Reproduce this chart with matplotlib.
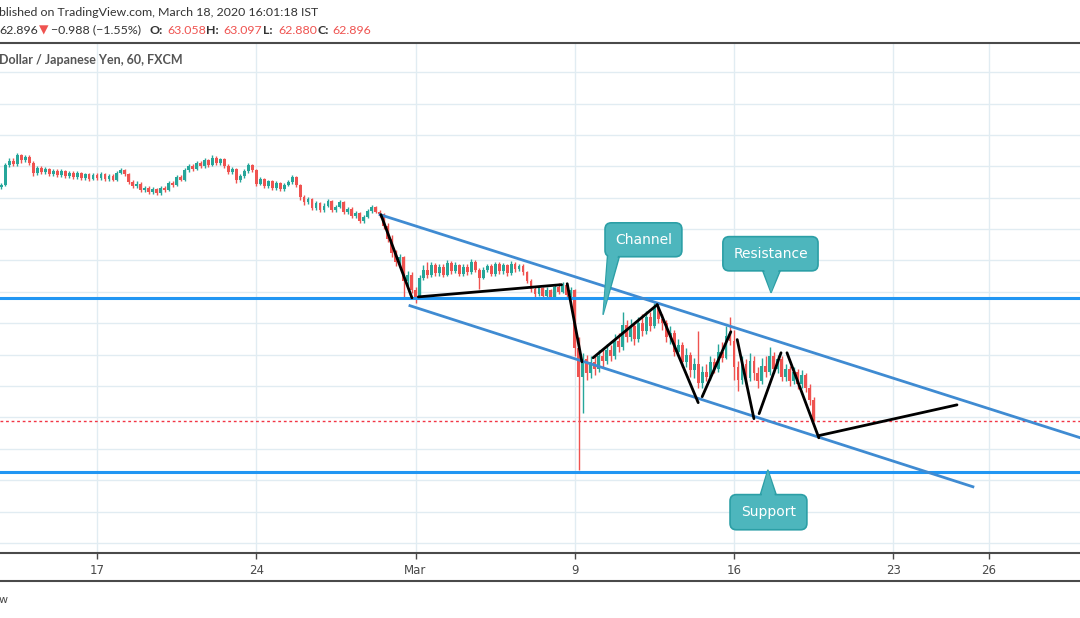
import numpy as np
import matplotlib
matplotlib.use("Agg")
import matplotlib.pyplot as plt
from matplotlib.patches import FancyBboxPatch, Polygon
from matplotlib.lines import Line2D

# NZD/JPY, 3-hour bars (bar 0 = Fri 14 Feb)
first_open = 70.35
closes = [
    70.40, 71.05, 71.18, 71.08, 71.35, 71.20, 71.30, 71.12, 70.78, 70.95,
    70.82, 70.92, 70.74, 70.86, 70.72, 70.84, 70.68, 70.80, 70.66, 70.78,
    70.62, 70.74, 70.60, 70.72, 70.64, 70.76, 70.60, 70.70, 70.58, 70.80,
    70.88, 70.74, 70.50, 70.38, 70.45, 70.25, 70.32, 70.18, 70.28, 70.15,
    70.30, 70.24, 70.48, 70.40, 70.66, 70.58, 70.88, 71.02, 70.92, 71.12,
    71.00, 71.20, 71.05, 71.28, 71.10, 71.22, 71.02, 70.82, 70.92, 70.55,
    70.68, 70.85, 71.05, 70.88, 70.45, 70.60, 70.38, 70.52, 70.32, 70.46,
    70.28, 70.42, 70.50, 70.65, 70.40, 70.02, 69.85, 69.95, 69.68, 69.82,
    69.60, 69.75, 69.90, 69.60, 69.72, 69.85, 69.55, 69.65, 69.42, 69.52,
    69.25, 69.40, 69.58, 69.70, 69.55, 69.48, 69.10, 68.70, 68.25, 67.95,
    68.10, 67.35, 67.55, 67.05, 66.85, 67.45, 67.70, 67.55, 67.85, 67.60,
    67.80, 67.55, 67.92, 67.68, 67.85, 67.58, 67.80, 67.62, 67.95, 67.70,
    67.45, 67.70, 67.82, 67.58, 67.88, 67.65, 67.85, 67.60, 67.90, 67.72,
    67.82, 67.62, 67.35, 67.10, 66.92, 67.12, 66.88, 67.05, 66.82, 67.15,
    67.00, 67.22, 66.90, 67.05, 65.20, 64.30, 64.85, 64.40, 64.75, 64.55,
    64.95, 64.80, 65.15, 64.95, 65.45, 65.25, 65.95, 65.55, 65.90, 65.50,
    66.00, 65.75, 66.20, 65.90, 66.50, 66.15, 66.00, 65.55, 65.70, 65.10,
    65.30, 64.75, 65.00, 64.50, 64.70, 64.10, 64.45, 64.30, 64.75, 64.55,
    65.10, 64.90, 65.60, 65.45, 64.60, 64.20, 64.70, 64.25, 64.80, 64.40,
    64.15, 64.65, 64.45, 64.95, 64.55, 64.85, 64.30, 64.55, 64.15, 64.45,
    64.05, 64.35, 63.95, 63.55, 62.90,
]
highs = [
    70.48, 71.12, 71.26, 71.25, 71.44, 71.40, 71.36, 71.36, 71.16, 71.02,
    71.00, 70.98, 70.96, 70.92, 70.90, 70.90, 70.88, 70.86, 70.84, 70.84,
    70.82, 70.80, 70.78, 70.78, 70.78, 70.82, 70.80, 70.76, 70.74, 70.86,
    70.95, 70.92, 70.78, 70.56, 70.52, 70.50, 70.38, 70.36, 70.34, 70.32,
    70.36, 70.36, 70.54, 70.54, 70.72, 70.72, 70.94, 71.08, 71.08, 71.18,
    71.18, 71.26, 71.24, 71.36, 71.32, 71.28, 71.26, 71.06, 70.98, 70.96,
    70.74, 70.92, 71.10, 71.08, 70.92, 70.66, 70.64, 70.58, 70.56, 70.52,
    70.50, 70.48, 70.56, 70.72, 70.68, 70.44, 70.08, 70.02, 69.98, 69.88,
    69.86, 69.82, 69.96, 69.94, 69.78, 69.94, 69.88, 69.72, 69.70, 69.58,
    69.56, 69.46, 69.64, 69.76, 69.74, 69.62, 69.52, 69.18, 68.80, 68.35,
    68.22, 68.15, 67.68, 67.62, 67.15, 67.55, 67.85, 67.96, 67.95, 67.92,
    67.90, 67.88, 68.02, 67.98, 67.94, 67.90, 67.90, 67.88, 68.05, 68.00,
    67.76, 67.78, 67.90, 67.88, 67.96, 67.94, 67.92, 67.90, 67.98, 67.96,
    67.90, 67.88, 67.68, 67.42, 67.18, 67.20, 67.16, 67.14, 67.10, 67.25,
    67.28, 67.32, 67.26, 67.15, 67.10, 65.55, 65.05, 65.00, 64.95, 64.95,
    65.15, 65.20, 65.35, 65.30, 65.65, 65.70, 66.35, 66.10, 66.15, 66.00,
    66.20, 66.30, 66.40, 66.35, 66.66, 66.60, 66.30, 66.10, 65.90, 65.80,
    65.50, 65.40, 65.20, 65.10, 64.90, 65.75, 64.65, 64.70, 64.95, 64.90,
    65.35, 65.40, 65.90, 66.20, 65.80, 64.80, 64.95, 64.85, 65.05, 64.95,
    64.60, 64.90, 64.95, 65.25, 65.10, 65.00, 64.95, 64.70, 64.65, 64.60,
    64.55, 64.50, 64.40, 64.05, 63.65,
]
lows = [
    70.28, 70.36, 70.98, 71.00, 71.02, 71.12, 71.14, 71.04, 70.70, 70.72,
    70.76, 70.76, 70.68, 70.68, 70.66, 70.66, 70.62, 70.62, 70.60, 70.60,
    70.56, 70.56, 70.54, 70.55, 70.58, 70.58, 70.54, 70.54, 70.52, 70.54,
    70.74, 70.68, 70.44, 70.30, 70.32, 70.18, 70.18, 70.12, 70.12, 70.08,
    70.10, 70.18, 70.20, 70.34, 70.36, 70.52, 70.54, 70.82, 70.86, 70.88,
    70.94, 70.96, 70.98, 71.00, 71.04, 71.04, 70.96, 70.76, 70.76, 70.48,
    70.50, 70.62, 70.80, 70.82, 70.36, 70.40, 70.32, 70.32, 70.26, 70.26,
    70.22, 70.22, 70.36, 70.44, 70.34, 69.94, 69.78, 69.80, 69.62, 69.62,
    69.54, 69.54, 69.70, 69.54, 69.54, 69.66, 69.48, 69.48, 69.36, 69.36,
    69.18, 69.20, 69.34, 69.52, 69.50, 69.40, 69.00, 68.58, 68.10, 67.82,
    67.80, 66.85, 67.20, 66.95, 66.66, 66.78, 67.38, 67.45, 67.48, 67.50,
    67.52, 67.46, 67.50, 67.58, 67.60, 67.50, 67.52, 67.54, 67.56, 67.62,
    67.10, 67.40, 67.62, 67.50, 67.52, 67.56, 67.58, 67.52, 67.55, 67.64,
    67.66, 67.55, 67.28, 67.00, 66.84, 66.86, 66.80, 66.82, 66.76, 66.78,
    66.92, 66.95, 66.80, 66.85, 64.95, 61.33, 63.15, 64.20, 64.25, 64.35,
    64.45, 64.60, 64.70, 64.80, 64.85, 65.10, 65.15, 65.40, 65.45, 65.30,
    65.40, 65.60, 65.65, 65.75, 65.85, 66.00, 65.80, 65.40, 65.35, 64.95,
    64.95, 64.60, 64.60, 64.30, 64.25, 63.95, 63.95, 64.15, 64.20, 64.40,
    64.45, 64.75, 64.85, 65.30, 64.20, 63.85, 64.05, 64.00, 64.15, 64.20,
    63.95, 64.05, 64.30, 64.35, 64.40, 64.40, 64.15, 64.15, 64.00, 64.05,
    63.90, 63.95, 63.80, 63.40, 62.88,
]

last_price = 62.896
resistance = 66.80
support = 61.26

# x positions of the date labels, in bars
date_bars = [24, 64, 104, 144, 184, 224, 248]
date_labels = ["17", "24", "Mar", "9", "16", "23", "26"]

# drawings: (bar, price) end points
channel_lines = [[(95.1, 69.46), (271.0, 62.35)],
                 [(102.6, 66.56), (244.0, 60.79)]]
zigzag_lines = [
    [(95.3, 69.46), (103.1, 66.81)],
    [(104.7, 66.84), (140.7, 67.23)],
    [(142.1, 67.26), (145.8, 64.77)],
    [(148.6, 64.90), (164.7, 66.59)],
    [(164.7, 66.59), (175.0, 63.47)],
    [(176.0, 63.66), (183.2, 65.73)],
    [(184.8, 65.48), (189.0, 62.96)],
    [(190.3, 63.12), (195.8, 65.06)],
    [(197.3, 65.06), (205.3, 62.35)],
    [(205.3, 62.42), (240.0, 63.40)],
]
# label, box (x0, x1, y0, y1), tail base (xa, xb), tail tip
callouts = [
    ("Channel", (151.6, 170.9, 68.12, 69.20), (152.2, 155.2), (151.1, 66.27)),
    ("Resistance", (181.2, 205.1, 67.67, 68.76), (191.2, 195.6), (193.3, 66.97)),
    ("Support", (183.0, 202.3, 59.42, 60.54), (190.6, 194.6), (192.5, 61.33)),
]

up_col = "#26a69a"
down_col = "#ef5350"
grid_col = "#e1ecf2"
frame_col = "#4a4a4a"

fig = plt.figure(figsize=(10.8, 6.18), dpi=100)
ax = fig.add_axes([0, 1 - 553.3 / 618, 1, (553.3 - 43) / 618])
ax.set_xlim(-0.37, 270.9)
ax.set_ylim(58.67, 74.93)

c = np.array(closes)
o = np.r_[first_open, c[:-1]]
x = np.arange(len(c))
cols = np.where(c >= o, up_col, down_col)
ax.vlines(x, lows, highs, colors=cols, lw=1, zorder=3)
body = np.maximum(np.abs(c - o), 0.03)
ax.bar(x, body, bottom=np.minimum(o, c), width=0.72, color=cols, zorder=3)

# grid
ax.set_xticks(date_bars)
ax.set_xticklabels(date_labels)
ax.set_yticks(np.arange(59, 75))
ax.tick_params(axis="y", length=0, labelleft=False)
ax.tick_params(axis="x", length=4, color=frame_col, width=1, pad=4,
               labelsize=8.5, labelcolor="#4a4a4a")
ax.grid(color=grid_col, lw=1, zorder=0)
ax.set_axisbelow(True)
for s in ["left", "right"]:
    ax.spines[s].set_visible(False)
for s in ["top", "bottom"]:
    ax.spines[s].set_color(frame_col)
    ax.spines[s].set_linewidth(1.5)

# levels
ax.axhline(resistance, color="#2196f3", lw=2.2, zorder=4)
ax.axhline(support, color="#2196f3", lw=2.2, zorder=4)
ax.axhline(last_price, color="#f23645", lw=1, ls=(0, (2, 2)), zorder=2)
for seg in channel_lines:
    xs, ys = zip(*seg)
    ax.plot(xs, ys, color="#3f8bd2", lw=2, zorder=5)
for seg in zigzag_lines:
    xs, ys = zip(*seg)
    ax.plot(xs, ys, color="black", lw=2, zorder=6, solid_capstyle="round")

# callouts
box_fc = "#4db6bd"
box_ec = "#2c9fa6"
asp = (1080 / 271.27) / (510.3 / 16.26)
for label, (x0, x1, y0, y1), (xa, xb), tip in callouts:
    edge_y = y0 if tip[1] < y0 else y1
    inner = 0.08 if tip[1] < y0 else -0.08
    tail = Polygon([(xa, edge_y), tip, (xb, edge_y)], closed=True,
                   fc=box_fc, ec=box_ec, lw=1, zorder=7)
    ax.add_patch(tail)
    box = FancyBboxPatch((x0, y0), x1 - x0, y1 - y0,
                         boxstyle="round,pad=0,rounding_size=1.6",
                         mutation_aspect=asp, fc=box_fc, ec=box_ec,
                         lw=1.2, zorder=8)
    ax.add_patch(box)
    cover = Polygon([(xa + 0.25, edge_y + inner), tip, (xb - 0.25, edge_y + inner)],
                    closed=True, fc=box_fc, ec="none", zorder=9)
    ax.add_patch(cover)
    ax.text((x0 + x1) / 2, (y0 + y1) / 2, label, color="white", fontsize=10,
            ha="center", va="center", family="DejaVu Sans", zorder=10)

# header and footer texts
hfont = ["Lato", "DejaVu Sans"]
renderer = fig.canvas.get_renderer()


def fit(t, width_px):
    # scale a text until it is as wide as in the screenshot
    w = t.get_window_extent(renderer).width
    t.set_fontsize(t.get_fontsize() * width_px / w)


head = fig.text(-0.001, 1 - 13 / 618,
                "blished on TradingView.com, March 18, 2020 16:01:18 IST",
                fontsize=9.5, color="#333333", va="center", family=hfont)
fit(head, 322)
hsize = head.get_fontsize()

row_y = 1 - 30 / 618
pieces = [
    (0, "62.896", "#333333", "normal"),
    (40, "\u25bc", "#ef5350", "normal"),
    (52, "\u22120.988 (\u22121.55%)", "#333333", "normal"),
    (150, "O:", "#333333", "bold"),
    (168, "63.058", "#ef5350", "normal"),
    (207, "H:", "#333333", "bold"),
    (224, "63.097", "#ef5350", "normal"),
    (264, "L:", "#333333", "bold"),
    (279, "62.880", "#ef5350", "normal"),
    (318, "C:", "#333333", "bold"),
    (333, "62.896", "#ef5350", "normal"),
]
for px, txt, col, wt in pieces:
    fig.text((px - 1) / 1080, row_y, txt, fontsize=hsize, color=col,
             fontweight=wt, va="center", family=hfont)

title = fig.text(-0.001, 1 - 60 / 618, "Dollar / Japanese Yen, 60, FXCM",
                 fontsize=9.5, color="#555555", fontweight="bold",
                 va="center", family=hfont)
fit(title, 185)

fig.add_artist(Line2D([0, 1], [1 - 581 / 618] * 2, transform=fig.transFigure,
                      color=frame_col, lw=1.5))
fig.text(-0.001, 1 - 600 / 618, "w", fontsize=8, color="#4a4a4a", va="center")

fig.savefig("out.png", dpi=100)
